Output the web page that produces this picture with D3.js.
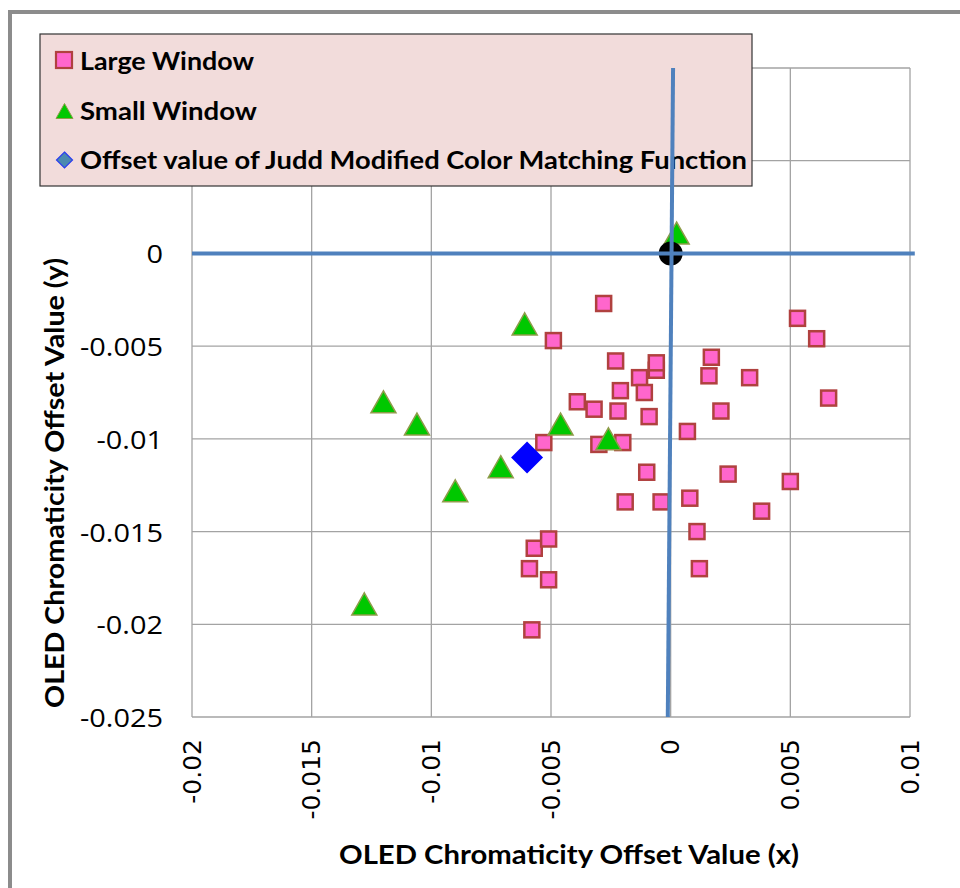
<!DOCTYPE html>
<html><head><meta charset="utf-8">
<script src="https://cdn.jsdelivr.net/npm/d3@7"></script>
<style>html,body{margin:0;padding:0;background:#fff;}svg{display:block;}</style>
</head><body>
<script>
// ---- data ----
const largeX = [-0.0028,-0.0049,-0.0023,-0.0006,-0.0006,0.0017,0.0053,0.0061,0.0033,0.0016,-0.0013,-0.0021,-0.0011,-0.0039,-0.0032,-0.0022,-0.0009,0.0021,0.0066,0.0007,-0.0053,-0.0030,-0.0020,-0.0010,0.0024,-0.0019,-0.0004,0.0008,0.0050,0.0038,0.0011,-0.0057,-0.0051,-0.0059,-0.0051,0.0012,-0.0058];
const largeY = [-0.0027,-0.0047,-0.0058,-0.0063,-0.0059,-0.0056,-0.0035,-0.0046,-0.0067,-0.0066,-0.0067,-0.0074,-0.0075,-0.0080,-0.0084,-0.0085,-0.0088,-0.0085,-0.0078,-0.0096,-0.0102,-0.0103,-0.0102,-0.0118,-0.0119,-0.0134,-0.0134,-0.0132,-0.0123,-0.0139,-0.0150,-0.0159,-0.0154,-0.0170,-0.0176,-0.0170,-0.0203];
const smallX = [0.00025,-0.0061,-0.0120,-0.0106,-0.0046,-0.0026,-0.0071,-0.0090,-0.0128];
const smallY = [0.0011,-0.0038,-0.0080,-0.0092,-0.0092,-0.0100,-0.0115,-0.0128,-0.0189];
const juddX = [-0.0060];
const juddY = [-0.0110];
const originX = [0];
const originY = [0];
const xTicks = [-0.02,-0.015,-0.01,-0.005,0,0.005,0.01];
const xTickLabels = ["-0.02","-0.015","-0.01","-0.005","0","0.005","0.01"];
const yTicks = [0.01,0.005,0,-0.005,-0.01,-0.015,-0.02,-0.025];
const yTickLabels = ["","","0","-0.005","-0.01","-0.015","-0.02","-0.025"];
const legendLabels = ["Large Window","Small Window","Offset value of Judd Modified Color Matching Function"];
const xTitle = "OLED Chromaticity Offset Value (x)";
const yTitle = "OLED Chromaticity Offset Value (y)";
// reference lines (x-axis line and near-vertical y line)
const hLineX = [-0.02, 0.0102], hLineY = [0, 0];
const vLineX = [0.0001, -0.00012], vLineY = [0.01, -0.025];

// ---- layout ----
const W = 960, H = 888;
const svg = d3.select("body").append("svg").attr("width", W).attr("height", H);
const x = d3.scaleLinear().domain([-0.02, 0.01]).range([192, 910]);
const y = d3.scaleLinear().domain([-0.025, 0.01]).range([717, 68]);

// outer frame
svg.append("rect").attr("x", 10).attr("y", 12).attr("width", 980).attr("height", 900)
  .attr("fill", "none").attr("stroke", "#8c8c8c").attr("stroke-width", 4);

// gridlines
const grid = svg.append("g");
grid.selectAll("line.vx").data(xTicks).enter().append("line")
  .attr("x1", d => x(d)).attr("x2", d => x(d)).attr("y1", y(0.01)).attr("y2", y(-0.025))
  .attr("stroke", "#a3a3a3").attr("stroke-width", 1.3);
grid.selectAll("line.hy").data(yTicks).enter().append("line")
  .attr("x1", x(-0.02)).attr("x2", x(0.01)).attr("y1", d => y(d)).attr("y2", d => y(d))
  .attr("stroke", "#a3a3a3").attr("stroke-width", 1.3);

// y tick labels
const yl = svg.append("g").selectAll("text").data(yTicks).enter().append("text")
  .attr("x", 163).attr("y", d => y(d)).attr("text-anchor", "end").attr("dominant-baseline", "central")
  .attr("font-family", "'Open Sans', sans-serif").attr("font-size", 25).attr("fill", "#000")
  .text((d, i) => yTickLabels[i]);
(function(){
  let ref = null;
  yl.each(function(){ if (this.textContent === "-0.005") ref = this.getComputedTextLength(); });
  const k = ref ? 83 / ref : 1;
  yl.each(function(){ const w = this.getComputedTextLength(); if (w > 0) d3.select(this).attr("textLength", w * k).attr("lengthAdjust", "spacingAndGlyphs"); });
})();

// x tick labels (rotated)
svg.append("g").selectAll("text").data(xTicks).enter().append("text")
  .attr("transform", d => `translate(${x(d)},739) rotate(-90)`)
  .attr("text-anchor", "end").attr("dominant-baseline", "central")
  .attr("font-family", "'DejaVu Sans', sans-serif").attr("font-size", 25).attr("fill", "#000")
  .text((d, i) => xTickLabels[i]);

// axis titles
svg.append("text").attr("x", 569).attr("y", 864).attr("text-anchor", "middle")
  .attr("font-family", "Lato, sans-serif").attr("font-weight", "bold").attr("font-size", 26)
  .attr("textLength", 460).attr("lengthAdjust", "spacingAndGlyphs").text(xTitle);
svg.append("text").attr("transform", "translate(64,483) rotate(-90)").attr("text-anchor", "middle")
  .attr("font-family", "Lato, sans-serif").attr("font-weight", "bold").attr("font-size", 26)
  .attr("textLength", 450).attr("lengthAdjust", "spacingAndGlyphs").text(yTitle);

// large window squares
const sq = 15;
svg.append("g").selectAll("rect").data(largeX.map((d, i) => [d, largeY[i]])).enter().append("rect")
  .attr("x", d => x(d[0]) - sq / 2).attr("y", d => y(d[1]) - sq / 2).attr("width", sq).attr("height", sq)
  .attr("fill", "#ff66cc").attr("stroke", "#b0413f").attr("stroke-width", 2.5);

// small window triangles
const tri = (w, h) => `M0,${-h/2}L${w/2},${h/2}L${-w/2},${h/2}Z`;
svg.append("g").selectAll("path").data(smallX.map((d, i) => [d, smallY[i]])).enter().append("path")
  .attr("d", tri(25, 22)).attr("transform", d => `translate(${x(d[0])},${y(d[1])})`)
  .attr("fill", "#00c800").attr("stroke", "#8f9c4a").attr("stroke-width", 1.5);

// Judd diamond
svg.append("g").selectAll("path").data(juddX.map((d, i) => [d, juddY[i]])).enter().append("path")
  .attr("d", "M0,-16L16,0L0,16L-16,0Z").attr("transform", d => `translate(${x(d[0])},${y(d[1])})`)
  .attr("fill", "#0000ff");

// origin circle
svg.append("g").selectAll("circle").data(originX.map((d, i) => [d, originY[i]])).enter().append("circle")
  .attr("cx", d => x(d[0])).attr("cy", d => y(d[1])).attr("r", 12).attr("fill", "#000");

// legend
const lg = svg.append("g");
lg.append("rect").attr("x", 40).attr("y", 34).attr("width", 712).attr("height", 152)
  .attr("fill", "#f2dcdb").attr("stroke", "#333").attr("stroke-width", 1.2);
const rowsY = [60, 110, 159];
const legW = [174, 177, 667];
lg.selectAll("text").data(legendLabels).enter().append("text")
  .attr("x", 80).attr("y", (d, i) => rowsY[i]).attr("dominant-baseline", "central")
  .attr("font-family", "Lato, sans-serif").attr("font-weight", "bold").attr("font-size", 24)
  .attr("textLength", (d, i) => legW[i]).attr("lengthAdjust", "spacingAndGlyphs").text(d => d);
lg.append("rect").attr("x", 64 - 8).attr("y", rowsY[0] - 8).attr("width", 16).attr("height", 16)
  .attr("fill", "#ff66cc").attr("stroke", "#b0413f").attr("stroke-width", 2.2);
lg.append("path").attr("d", tri(17, 15)).attr("transform", `translate(64.5,${rowsY[1] + 1})`)
  .attr("fill", "#00c800").attr("stroke", "#8f9c4a").attr("stroke-width", 1);
lg.append("path").attr("d", "M0,-8L8,0L0,8L-8,0Z").attr("transform", `translate(64.5,${rowsY[2] + 1})`)
  .attr("fill", "#4a8ab0").attr("stroke", "#2a3cf0").attr("stroke-width", 1.2);

// reference lines on top
const line = d3.line().x(d => x(d[0])).y(d => y(d[1]));
svg.append("path").attr("d", line(hLineX.map((d, i) => [d, hLineY[i]])))
  .attr("stroke", "#4f81bd").attr("stroke-width", 4).attr("fill", "none");
svg.append("path").attr("d", line(vLineX.map((d, i) => [d, vLineY[i]])))
  .attr("stroke", "#4f81bd").attr("stroke-width", 4).attr("fill", "none");
</script>
</body></html>
